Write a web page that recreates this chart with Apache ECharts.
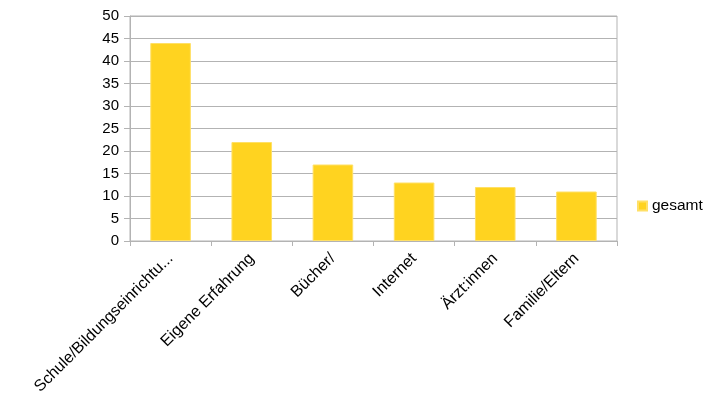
<!DOCTYPE html>
<html>
<head>
<meta charset="utf-8">
<script src="https://cdn.jsdelivr.net/npm/echarts@6/dist/echarts.min.js"></script>
<style>html,body{margin:0;padding:0;background:#fff;}#c{width:718px;height:404px;}</style>
</head>
<body>
<div id="c"></div>
<script>
const categories = ["Schule/Bildungseinrichtu...", "Eigene Erfahrung", "Bücher/", "Internet", "Ärzt:innen", "Familie/Eltern"];
const gesamt = [44, 22, 17, 13, 12, 11];
const seriesName = "gesamt";
const yMin = 0, yMax = 50, yStep = 5;

const chart = echarts.init(document.getElementById('c'), null, {renderer: 'canvas'});
chart.setOption({
  animation: false,
  backgroundColor: '#ffffff',
  textStyle: {fontFamily: 'Liberation Sans'},
  grid: {left: 130, right: 101, top: 16, bottom: 163, show: true, borderColor: '#b3b3b3', borderWidth: 1, containLabel: false},
  legend: {
    data: [seriesName], orient: 'vertical', left: 632, top: 193,
    itemWidth: 9, itemHeight: 9, itemGap: 6, icon: 'rect',
    textStyle: {fontSize: 15.5, color: '#000', fontFamily: 'Liberation Sans', padding: [0,0,0,0]}
  },
  xAxis: {
    type: 'category', data: categories, boundaryGap: true,
    axisLine: {show: true, lineStyle: {color: '#b3b3b3'}},
    axisTick: {show: true, length: 5, lineStyle: {color: '#b3b3b3'}, alignWithLabel: false},
    axisLabel: {rotate: 45, interval: 0, fontSize: 16, color: '#000', margin: 15, fontFamily: 'Liberation Sans'},
    splitLine: {show: false}
  },
  yAxis: {
    type: 'value', min: yMin, max: yMax, interval: yStep,
    axisLine: {show: true, lineStyle: {color: '#b3b3b3'}},
    axisTick: {show: true, length: 6, lineStyle: {color: '#b3b3b3'}},
    axisLabel: {fontSize: 15, color: '#000', margin: 11, fontFamily: 'Liberation Sans'},
    splitLine: {show: true, lineStyle: {color: '#b3b3b3', width: 1}}
  },
  series: [{
    name: seriesName, type: 'bar', data: gesamt, barWidth: '50%',
    itemStyle: {color: '#ffd320', borderColor: '#ffe066', borderWidth: 1}
  }]
});
</script>
</body>
</html>
